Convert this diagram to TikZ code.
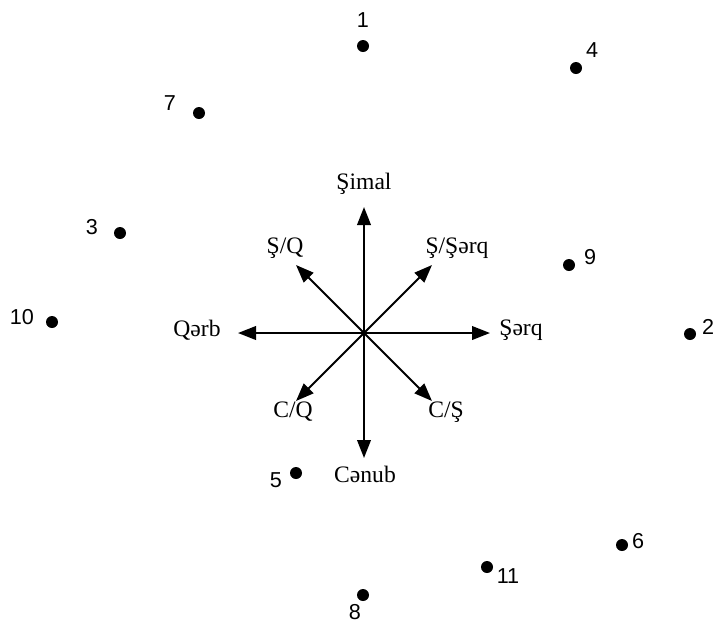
\documentclass[tikz,border=0pt]{standalone}
\usepackage{fontspec}
\setmainfont{Liberation Serif}
\newfontfamily\numfont{Liberation Sans}
\usetikzlibrary{arrows.meta, positioning}

\begin{document}
\begin{tikzpicture}[
    x=0.5pt, y=-0.5pt,
    >={Triangle[length=9pt, width=6.8pt]},
    arm/.style={->, line width=1pt},
    dir/.style={font=\fontsize{11.8}{14}\selectfont, inner sep=0pt},
    dot/.style={circle, fill=black, inner sep=0pt, minimum size=6pt},
    num/.style={font=\numfont\fontsize{10.8}{13}\selectfont, inner sep=0pt},
]
    \useasboundingbox (0,0) rectangle (717,623);

    % compass
    \coordinate (c) at (364,333);
    \coordinate (n) at (364,207);
    \coordinate (s) at (364,458);
    \coordinate (e) at (490,333);
    \coordinate (w) at (238,333);
    \coordinate (ne) at (432,265);
    \coordinate (nw) at (296,265);
    \coordinate (se) at (432,401);
    \coordinate (sw) at (296,401);
    \foreach \t in {n, s, e, w, ne, nw, se, sw}
        \draw[arm] (c) -- (\t);

    \node[dir] (lN) at (364,184) {Şimal};
    \node[dir] (lS) at (365,474) {Cənub};
    \node[dir] (lE) at (521,330) {Şərq};
    \node[dir] (lW) at (197,330) {Qərb};
    \node[dir] (lNW) at (285,248) {Ş/Q};
    \node[dir] (lNE) at (457,248) {Ş/Şərq};
    \node[dir] (lSW) at (293,412) {C/Q};
    \node[dir] (lSE) at (446,412) {C/Ş};

    % points
    \node[dot] (p1) at (363,46) {};
    \node[dot] (p2) at (690,334) {};
    \node[dot] (p3) at (120,233) {};
    \node[dot] (p4) at (576,68) {};
    \node[dot] (p5) at (296,473) {};
    \node[dot] (p6) at (622,545) {};
    \node[dot] (p7) at (199,113) {};
    \node[dot] (p8) at (363,595) {};
    \node[dot] (p9) at (569,265) {};
    \node[dot] (p10) at (52,322) {};
    \node[dot] (p11) at (487,567) {};

    \node[num] (t1) at (363,20) {1};
    \node[num] (t2) at (708,327) {2};
    \node[num] (t3) at (92,227) {3};
    \node[num] (t4) at (592,50) {4};
    \node[num] (t5) at (276,480) {5};
    \node[num] (t6) at (638,541) {6};
    \node[num] (t7) at (170,103) {7};
    \node[num] (t8) at (355,612) {8};
    \node[num] (t9) at (590,257) {9};
    \node[num] (t10) at (22,317) {10};
    \node[num] (t11) at (508,576) {11};
\end{tikzpicture}
\end{document}
